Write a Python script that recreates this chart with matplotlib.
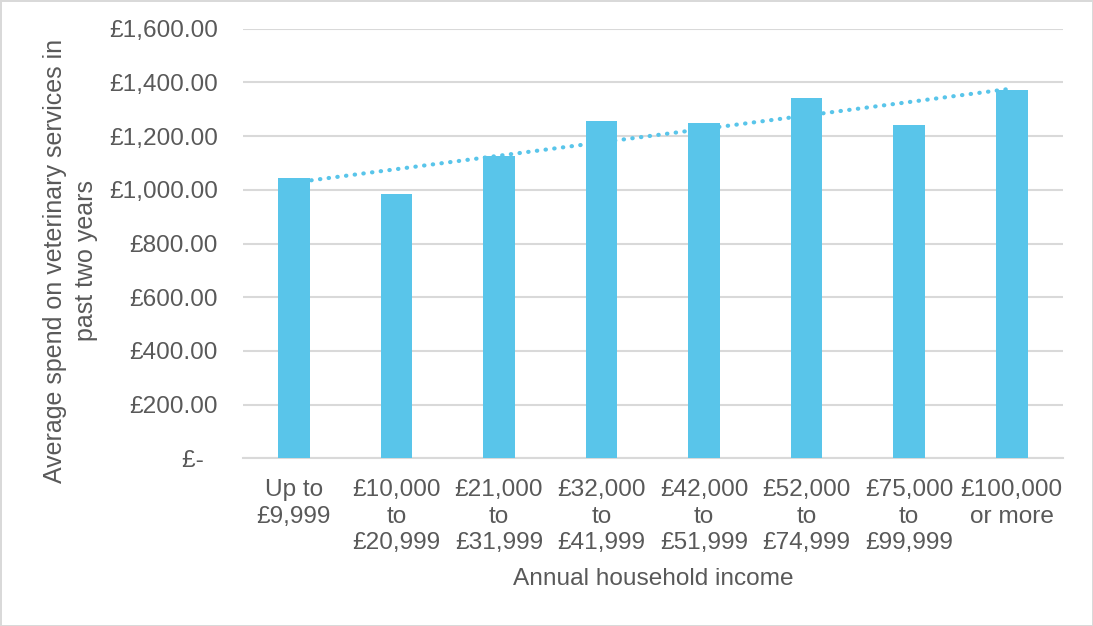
import numpy as np
import matplotlib
matplotlib.use("Agg")
from matplotlib import pyplot as plt
from matplotlib.ticker import FuncFormatter

categories = ["Up to\n£9,999", "£10,000\nto\n£20,999", "£21,000\nto\n£31,999",
              "£32,000\nto\n£41,999", "£42,000\nto\n£51,999", "£52,000\nto\n£74,999",
              "£75,000\nto\n£99,999", "£100,000\nor more"]
avg_spend = [1045, 985, 1127, 1257, 1249, 1342, 1240, 1372]
y_ticks = [0, 200, 400, 600, 800, 1000, 1200, 1400, 1600]

bar_color = "#59C5EA"
text_color = "#595959"
grid_color = "#D9D9D9"

plt.rcParams["font.family"] = ["Liberation Sans", "DejaVu Sans"]

fig = plt.figure(figsize=(10.93, 6.26), dpi=100)
fig.patch.set_edgecolor(grid_color)
fig.patch.set_linewidth(2)
ax = fig.add_axes([0.222, 0.268, 0.7505, 0.686])

x = np.arange(len(categories))
ax.bar(x, avg_spend, width=0.31, color=bar_color, zorder=3)

# linear trendline, like excel
coef = np.polyfit(x, avg_spend, 1)
ax.plot(x, np.polyval(coef, x), linestyle=(0, (0.1, 2.0)), dash_capstyle="round",
        color=bar_color, linewidth=3, zorder=4)

ax.set_xlim(-0.5, len(categories) - 0.5)
ax.set_ylim(0, 1600)
ax.set_yticks(y_ticks)

def money(v, pos):
    if v == 0:
        return "£-  "
    return "£{:,.2f}".format(v)

ax.yaxis.set_major_formatter(FuncFormatter(money))
ax.set_xticks(x)
ax.set_xticklabels(categories, linespacing=1.27)

ax.grid(axis="y", color=grid_color, linewidth=1.5, zorder=0)
for side in ["top", "right", "left"]:
    ax.spines[side].set_visible(False)
ax.spines["bottom"].set_color(grid_color)
ax.spines["bottom"].set_linewidth(1.5)
ax.tick_params(axis="both", length=0, labelsize=17.6, colors=text_color)
ax.tick_params(axis="y", pad=18)
ax.tick_params(axis="x", pad=15)

ax.set_xlabel("Annual household income", fontsize=17.6, color=text_color, labelpad=10)
ax.set_ylabel("Average spend on veterinary services in\npast two years", fontsize=18,
              color=text_color, linespacing=1.4)
ax.yaxis.set_label_coords(-0.176, 0.46)

fig.savefig("out.png", dpi=100)
